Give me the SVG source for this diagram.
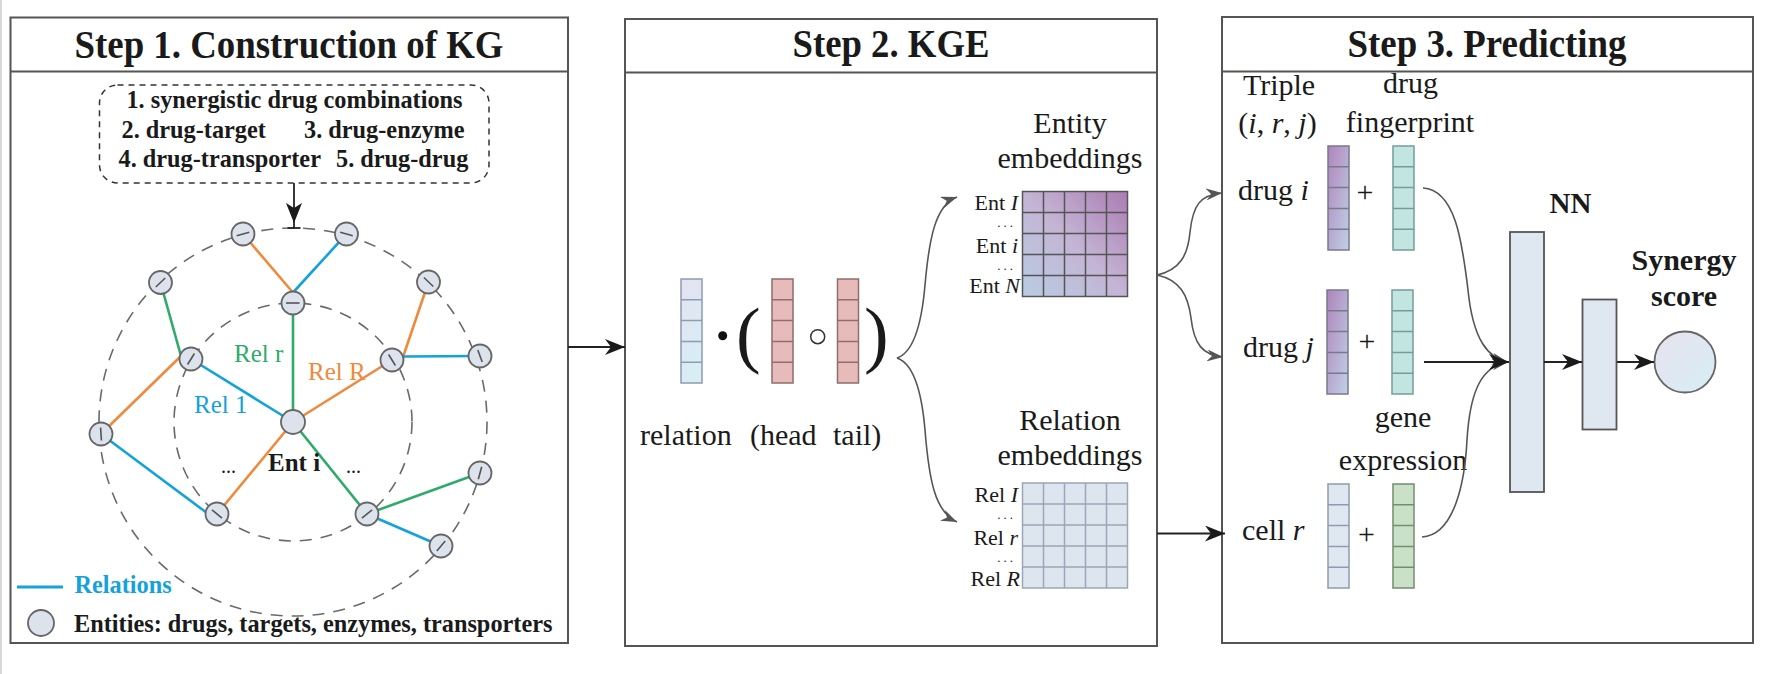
<svg xmlns="http://www.w3.org/2000/svg" width="1770" height="674" viewBox="0 0 1770 674">
<defs>
<style>
.frame{fill:none;stroke:#555;stroke-width:2}
.t{font-family:"Liberation Serif","Times New Roman",serif;fill:#1a1a1a}
.title{font-size:40px;font-weight:bold;text-anchor:middle}
.b24{font-size:24.3px;font-weight:bold}
.r30{font-size:30px}
.r22{font-size:22px}
.dots{font-size:13px;letter-spacing:3px}
.mid{text-anchor:middle}
.end{text-anchor:end}
.it{font-style:italic}
.dash{fill:none;stroke:#6a6a6a;stroke-width:1.6;stroke-dasharray:12 9}
.node{fill:#dde3ed;stroke:#666;stroke-width:1.8}
.tick{stroke:#555;stroke-width:1.6}
.eo{stroke:#ef8a3d;stroke-width:2.6;fill:none}
.eb{stroke:#14a2dc;stroke-width:2.6;fill:none}
.eg{stroke:#2eaa6a;stroke-width:2.6;fill:none}
.conn{fill:none;stroke:#222;stroke-width:1.8}
.gconn{fill:none;stroke:#555;stroke-width:1.6}
.vb{stroke:#8e9bb0;stroke-width:1.5}
.vr{fill:#e8bbbb;stroke:#8e6e6e;stroke-width:1.5}
.vp{fill:url(#gPurp);stroke:#777a8a;stroke-width:1.5}
.vt{fill:#c3e5e2;stroke:#729e9a;stroke-width:1.5}
.vgr{fill:#cbe0c8;stroke:#708f6d;stroke-width:1.5}
.vc{fill:#dfe7f1;stroke:#8e9bb0;stroke-width:1.5}
.nn{fill:#dfe7f1;stroke:#555;stroke-width:1.8}
</style>
<linearGradient id="gEnt" x1="0" y1="1" x2="1" y2="0">
<stop offset="0" stop-color="#b8cde3"/><stop offset="0.5" stop-color="#c4b4d5"/><stop offset="1" stop-color="#ab7cb2"/>
</linearGradient>
<linearGradient id="gPurp" x1="0" y1="0" x2="1" y2="1">
<stop offset="0" stop-color="#b084bb"/><stop offset="1" stop-color="#bfd1e7"/>
</linearGradient>
<linearGradient id="gRel" x1="0" y1="0" x2="0.4" y2="1">
<stop offset="0" stop-color="#e5e2f0"/><stop offset="1" stop-color="#d7eef5"/>
</linearGradient>
<linearGradient id="gCirc" x1="0" y1="0" x2="1" y2="1">
<stop offset="0" stop-color="#e8e2f0"/><stop offset="1" stop-color="#d6eef4"/>
</linearGradient>
<marker id="aB" viewBox="0 0 20 16" refX="20" refY="8" markerWidth="20" markerHeight="16" markerUnits="userSpaceOnUse" orient="auto">
<path d="M0,0 L20,8 L0,16 L6,8 z" fill="#1a1a1a"/>
</marker>
<marker id="aG" viewBox="0 0 16 12" refX="16" refY="6" markerWidth="16" markerHeight="12" markerUnits="userSpaceOnUse" orient="auto">
<path d="M0,0 L16,6 L0,12 L5,6 z" fill="#555"/>
</marker>
</defs>
<rect width="1770" height="674" fill="#fff"/>
<line x1="1" y1="0" x2="1" y2="674" stroke="#d8d8d8" stroke-width="2"/>

<!-- Panel 1 -->
<g id="panel1">
<rect class="frame" x="10.5" y="17.5" width="557.5" height="625.5"/>
<line class="frame" x1="10.5" y1="71.5" x2="568" y2="71.5"/>
<text class="t title" x="289" y="58" textLength="429" lengthAdjust="spacingAndGlyphs">Step 1. Construction of KG</text>
</g>
<g id="relbox">
<rect x="99.5" y="85" width="389.5" height="98" rx="18" fill="none" stroke="#333" stroke-width="1.5" stroke-dasharray="6 5"/>
<text class="t b24 mid" x="294.5" y="108">1. synergistic drug combinations</text>
<text class="t b24" x="121.5" y="137.5">2. drug-target</text>
<text class="t b24" x="304" y="137.5">3. drug-enzyme</text>
<text class="t b24" x="118.5" y="166.5">4. drug-transporter</text>
<text class="t b24" x="336" y="166.5">5. drug-drug</text>
</g>
<g id="kg-circles">
<circle class="dash" cx="293" cy="422" r="194"/>
<circle class="dash" cx="293" cy="422" r="119"/>
</g>
<g id="kg-edges">
<line class="eo" x1="243" y1="234" x2="292.5" y2="292"/>
<line class="eb" x1="346.5" y1="234" x2="293.5" y2="292"/>
<line class="eg" x1="160.5" y1="282.5" x2="181" y2="356"/>
<line class="eo" x1="181" y1="356" x2="101" y2="434"/>
<line class="eb" x1="191" y1="359" x2="293" y2="422"/>
<line class="eo" x1="428.5" y1="282" x2="403" y2="357"/>
<line class="eb" x1="403" y1="356.5" x2="480" y2="356"/>
<line class="eo" x1="293" y1="422" x2="392" y2="360"/>
<line class="eg" x1="293" y1="303" x2="293" y2="422"/>
<line class="eb" x1="101" y1="434" x2="207" y2="513"/>
<line class="eo" x1="293" y1="422" x2="217" y2="514"/>
<line class="eg" x1="293" y1="422" x2="367" y2="514"/>
<line class="eg" x1="367" y1="514" x2="480" y2="473"/>
<line class="eb" x1="367" y1="514" x2="441" y2="546"/>
</g>
<g id="kg-nodes">
<g id="n1"><circle class="node" cx="243" cy="234" r="11.5"/><line class="tick" x1="236.7" y1="235.7" x2="249.3" y2="232.3"/></g>
<g id="n2"><circle class="node" cx="346.5" cy="234" r="11.5"/><line class="tick" x1="340.2" y1="232.2" x2="352.8" y2="235.8"/></g>
<g id="n3"><circle class="node" cx="160.5" cy="282.5" r="11.5"/><line class="tick" x1="155.8" y1="287" x2="165.2" y2="278"/></g>
<g id="n4"><circle class="node" cx="428.5" cy="282" r="11.5"/><line class="tick" x1="423.9" y1="277.5" x2="433.3" y2="286.5"/></g>
<g id="n5"><circle class="node" cx="293" cy="303" r="11.5"/><line class="tick" x1="286" y1="303" x2="299.5" y2="303"/></g>
<g id="n6"><circle class="node" cx="191" cy="359" r="11.5"/><line class="tick" x1="187.6" y1="364.5" x2="194.4" y2="353.5"/></g>
<g id="n7"><circle class="node" cx="392" cy="360" r="11.5"/><line class="tick" x1="388.6" y1="354.5" x2="395.4" y2="365.5"/></g>
<g id="n8"><circle class="node" cx="480" cy="356" r="11.5"/><line class="tick" x1="477.8" y1="349.9" x2="482.2" y2="362.1"/></g>
<g id="n9"><circle class="node" cx="101" cy="434" r="11.5"/><line class="tick" x1="100.6" y1="427.5" x2="101.4" y2="440.5"/></g>
<g id="n10"><circle class="node" cx="217" cy="514" r="11.5"/><line class="tick" x1="212" y1="509.8" x2="222" y2="518.2"/></g>
<g id="n11"><circle class="node" cx="367" cy="514" r="11.5"/><line class="tick" x1="361.9" y1="518.1" x2="372.1" y2="509.9"/></g>
<g id="n12"><circle class="node" cx="480" cy="473" r="11.5"/><line class="tick" x1="481.7" y1="466.7" x2="478.3" y2="479.3"/></g>
<g id="n13"><circle class="node" cx="441" cy="546" r="11.5"/><line class="tick" x1="445.2" y1="541" x2="436.8" y2="551"/></g>
<g id="n0"><circle class="node" cx="293" cy="422" r="12"/></g>
</g>
<g id="kg-labels">
<text class="t" x="234" y="362" font-size="25" style="fill:#2eaa6a">Rel r</text>
<text class="t" x="308" y="380" font-size="25" style="fill:#ef8a3d">Rel R</text>
<text class="t" x="194" y="413" font-size="25" style="fill:#14a2dc">Rel 1</text>
<text class="t" x="268" y="471" font-size="25" font-weight="bold">Ent i</text>
<text class="t" x="221" y="473" font-size="20">...</text>
<text class="t" x="346" y="473" font-size="20">...</text>
</g>
<g id="legend">
<line x1="17" y1="587" x2="63" y2="587" stroke="#14a2dc" stroke-width="3"/>
<text class="t b24" x="74.5" y="593" style="fill:#14a2dc">Relations</text>
<circle class="node" cx="41" cy="623" r="13"/>
<text class="t b24" x="74" y="632">Entities: drugs, targets, enzymes, transporters</text>
</g>

<!-- Panel 2 -->
<g id="panel2">
<rect class="frame" x="625" y="19" width="532" height="627"/>
<line class="frame" x1="625" y1="72.5" x2="1157" y2="72.5"/>
<text class="t title" x="891" y="57" textLength="197" lengthAdjust="spacingAndGlyphs">Step 2. KGE</text>
</g>
<g id="formula">
<rect x="681" y="279" width="21" height="104" fill="url(#gRel)" class="vb"/>
<path class="vb" d="M681,299.8h21M681,320.6h21M681,341.4h21M681,362.2h21"/>
<circle cx="722.7" cy="335.7" r="4.5" fill="#111"/>
<text class="t" x="736" y="359" font-size="74">(</text>
<rect class="vr" x="772" y="279" width="21" height="104"/>
<path class="vr" d="M772,299.8h21M772,320.6h21M772,341.4h21M772,362.2h21"/>
<circle cx="817.7" cy="336.7" r="7" fill="none" stroke="#333" stroke-width="1.5"/>
<rect class="vr" x="837.5" y="279" width="21" height="104"/>
<path class="vr" d="M837.5,299.8h21M837.5,320.6h21M837.5,341.4h21M837.5,362.2h21"/>
<text class="t" x="864" y="359" font-size="74">)</text>
<text class="t r30" x="640" y="445">relation</text>
<text class="t r30" x="750" y="445">(head</text>
<text class="t r30" x="833" y="445">tail)</text>
</g>
<g id="entity-emb">
<text class="t r30 mid" x="1070" y="133">Entity</text>
<text class="t r30 mid" x="1070" y="168">embeddings</text>
<rect x="1022.5" y="191.5" width="105" height="105" fill="url(#gEnt)" stroke="#555" stroke-width="1.5"/>
<path d="M1043.5,191.5v105M1064.5,191.5v105M1085.5,191.5v105M1106.5,191.5v105M1022.5,212.5h105M1022.5,233.5h105M1022.5,254.5h105M1022.5,275.5h105" stroke="#555" stroke-width="1.5"/>
<text class="t r22 end" x="1018" y="210">Ent <tspan class="it">I</tspan></text>
<text class="t dots end" x="1016" y="227">...</text>
<text class="t r22 end" x="1018" y="253">Ent <tspan class="it">i</tspan></text>
<text class="t dots end" x="1016" y="270">...</text>
<text class="t r22 end" x="1020" y="293">Ent <tspan class="it">N</tspan></text>
</g>
<g id="relation-emb">
<text class="t r30 mid" x="1070" y="430">Relation</text>
<text class="t r30 mid" x="1070" y="465">embeddings</text>
<rect x="1022.5" y="483" width="105" height="105" fill="#dde5ef" stroke="#9ba7b7" stroke-width="1.5"/>
<path d="M1043.5,483v105M1064.5,483v105M1085.5,483v105M1106.5,483v105M1022.5,504h105M1022.5,525h105M1022.5,546h105M1022.5,567h105" stroke="#9ba7b7" stroke-width="1.5"/>
<text class="t r22 end" x="1018" y="502">Rel <tspan class="it">I</tspan></text>
<text class="t dots end" x="1016" y="519">...</text>
<text class="t r22 end" x="1018" y="545">Rel <tspan class="it">r</tspan></text>
<text class="t dots end" x="1016" y="562">...</text>
<text class="t r22 end" x="1020" y="586">Rel <tspan class="it">R</tspan></text>
</g>

<!-- Panel 3 -->
<g id="panel3">
<rect class="frame" x="1222" y="17" width="531" height="626"/>
<line class="frame" x1="1222" y1="71.5" x2="1753" y2="71.5"/>
<text class="t title" x="1487" y="57" textLength="279" lengthAdjust="spacingAndGlyphs">Step 3. Predicting</text>
</g>
<g id="inputs">
<text class="t r30 mid" x="1279" y="95">Triple</text>
<text class="t r30 mid" x="1277.5" y="133">(<tspan class="it">i</tspan>, <tspan class="it">r</tspan>, <tspan class="it">j</tspan>)</text>
<text class="t r30 mid" x="1410.5" y="93">drug</text>
<text class="t r30 mid" x="1410" y="132">fingerprint</text>
<text class="t r30" x="1238" y="200">drug <tspan class="it">i</tspan></text>
<rect class="vp" x="1328" y="146" width="21" height="104"/>
<path class="vp" d="M1328,166.8h21M1328,187.6h21M1328,208.4h21M1328,229.2h21"/>
<text class="t r30 mid" x="1365" y="202">+</text>
<rect class="vt" x="1393" y="146" width="21" height="104"/>
<path class="vt" d="M1393,166.8h21M1393,187.6h21M1393,208.4h21M1393,229.2h21"/>
<text class="t r30" x="1243" y="357">drug <tspan class="it">j</tspan></text>
<rect class="vp" x="1327" y="290" width="21" height="104"/>
<path class="vp" d="M1327,310.8h21M1327,331.6h21M1327,352.4h21M1327,373.2h21"/>
<text class="t r30 mid" x="1367" y="351">+</text>
<rect class="vt" x="1392" y="290" width="21" height="104"/>
<path class="vt" d="M1392,310.8h21M1392,331.6h21M1392,352.4h21M1392,373.2h21"/>
<text class="t r30 mid" x="1403" y="427">gene</text>
<text class="t r30 mid" x="1403" y="470">expression</text>
<text class="t r30" x="1242" y="540">cell <tspan class="it">r</tspan></text>
<rect class="vc" x="1328" y="484" width="21" height="104"/>
<path class="vc" d="M1328,504.8h21M1328,525.6h21M1328,546.4h21M1328,567.2h21"/>
<text class="t r30 mid" x="1366.5" y="544">+</text>
<rect class="vgr" x="1393" y="484" width="21" height="104"/>
<path class="vgr" d="M1393,504.8h21M1393,525.6h21M1393,546.4h21M1393,567.2h21"/>
</g>
<g id="nn">
<text class="t mid" x="1570.5" y="213" font-size="29" font-weight="bold">NN</text>
<rect class="nn" x="1510" y="232" width="34" height="260"/>
<rect class="nn" x="1582.5" y="299.5" width="34" height="130"/>
</g>
<g id="synergy">
<text class="t mid" x="1684" y="270" font-size="30" font-weight="bold">Synergy</text>
<text class="t mid" x="1684" y="306" font-size="30" font-weight="bold">score</text>
<circle cx="1685" cy="362" r="30.5" fill="url(#gCirc)" stroke="#666" stroke-width="1.8"/>
</g>

<!-- Connectors -->
<g id="connectors">
<line class="conn" x1="294" y1="183" x2="294" y2="228"/>
<path d="M286,203 L294,223 L302,203 L294,208 z" fill="#1a1a1a"/>
<line class="conn" x1="287.5" y1="228" x2="300.5" y2="228"/>
<line class="conn" x1="568" y1="347" x2="625" y2="347" marker-end="url(#aB)"/>
<path class="gconn" d="M897,358 C915,352 922,320 925,285 C929,240 935,205 957,197" marker-end="url(#aG)"/>
<path class="gconn" d="M897,358 C915,364 922,395 925,430 C929,480 935,512 957,522" marker-end="url(#aG)"/>
<path class="gconn" d="M1157,275 C1180,270 1188,255 1190,232 C1193,205 1200,195 1222,193" marker-end="url(#aG)"/>
<path class="gconn" d="M1157,275 C1180,280 1188,295 1191,318 C1194,345 1203,355 1223,357" marker-end="url(#aG)"/>
<line class="conn" x1="1157" y1="533.5" x2="1225" y2="533.5" marker-end="url(#aB)"/>
<path class="gconn" d="M1423,188 C1455,190 1462,240 1468,290 C1473,340 1488,358 1508,362" marker-end="url(#aG)"/>
<path class="gconn" d="M1422,537 C1455,535 1465,480 1467,440 C1470,390 1482,366 1508,362" marker-end="url(#aG)"/>
<line class="conn" x1="1424" y1="362" x2="1509" y2="362" marker-end="url(#aB)"/>
<line class="conn" x1="1544" y1="362" x2="1582" y2="362" marker-end="url(#aB)"/>
<line class="conn" x1="1617" y1="362" x2="1654" y2="362" marker-end="url(#aB)"/>
</g>
</svg>
